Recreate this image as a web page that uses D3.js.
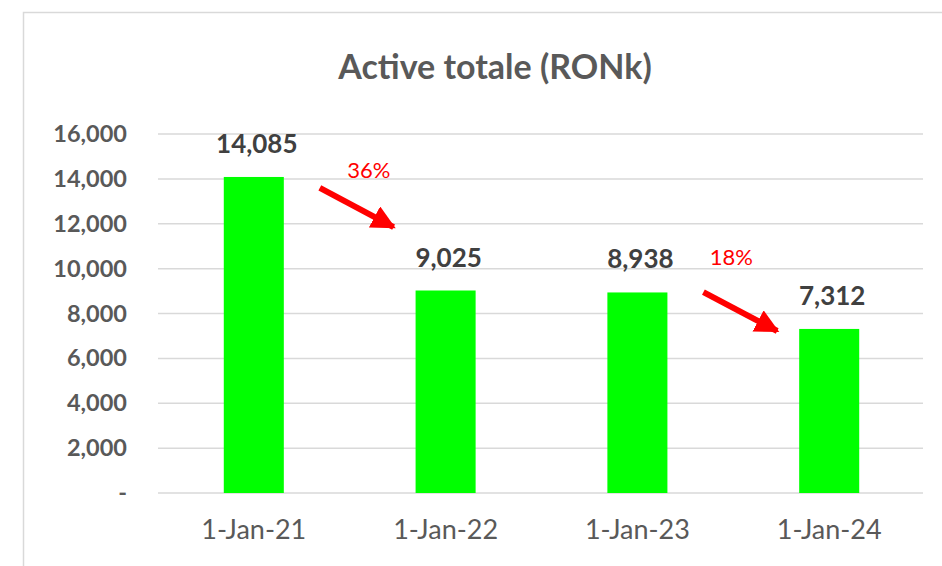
<!DOCTYPE html>
<html>
<head>
<meta charset="utf-8">
<script src="https://cdn.jsdelivr.net/npm/d3@7"></script>
<style>
  body { margin: 0; background: #fff; }
  svg { display: block; font-family: Lato, "Open Sans", sans-serif; }
</style>
</head>
<body>
<div id="container"></div>
<script>
// chart data
const categories = ["1-Jan-21", "1-Jan-22", "1-Jan-23", "1-Jan-24"];
const values = [14085, 9025, 8938, 7312];
const yTicks = [0, 2000, 4000, 6000, 8000, 10000, 12000, 14000, 16000];
// drop annotations: from bar index -> next bar, arrow start/end heights (data units)
const dropFrom = [0, 2];
const dropStartY = [13600, 8950];
const dropEndY = [11850, 7220];
// where the % label sits: fraction of the way between the two bar centres, and height
const pctFrac = [0.6, 0.49];
const pctY = [14390, 10500];

const w = 942;
const h = 566;
const margin = { top: 134, right: 17, bottom: 73, left: 158 };

const svg = d3.select("#container").
append("svg").
attr("width", w).
attr("height", h);

// outer chart border (runs off the right and bottom)
svg.append("rect").
attr("x", 23.5).
attr("y", 12.5).
attr("width", 1000).
attr("height", 1000).
attr("fill", "none").
attr("stroke", "#d9d9d9").
attr("stroke-width", 1.5);

const xScale = d3.scaleBand().
domain(categories).
range([margin.left, w - margin.right]).
paddingInner(0.687).
paddingOuter(0.343);

const yScale = d3.scaleLinear().
domain([0, 16000]).
range([h - margin.bottom, margin.top]);

const cx = c => xScale(c) + xScale.bandwidth() / 2;

// gridlines
svg.append("g").
selectAll("line").
data(yTicks).
enter().
append("line").
attr("x1", margin.left).
attr("x2", w - margin.right - 2).
attr("y1", d => yScale(d)).
attr("y2", d => yScale(d)).
attr("stroke", "#d9d9d9").
attr("stroke-width", 1.5);

// y axis labels
const yAxis = d3.axisLeft(yScale).
tickValues(yTicks).
tickSize(0).
tickPadding(0).
tickFormat(d => d === 0 ? "-" : d3.format(",")(d));

svg.append("g").
attr("id", "y-axis").
attr("transform", "translate(127,0)").
call(yAxis).
call(g => g.select(".domain").remove()).
call(g => g.selectAll("text").
attr("fill", "#595959").
style("font-size", "23.5px").
style("font-weight", "bold").
style("font-family", "Lato, sans-serif"));

// x axis labels
const xAxis = d3.axisBottom(xScale).tickSize(0).tickPadding(0);
svg.append("g").
attr("id", "x-axis").
attr("transform", `translate(0, ${h - margin.bottom + 27})`).
call(xAxis).
call(g => g.select(".domain").remove()).
call(g => g.selectAll("text").
attr("fill", "#595959").
style("font-size", "27px").
style("font-family", "Lato, sans-serif"));

// bars
svg.selectAll(".bar").
data(values).
enter().
append("rect").
attr("class", "bar").
attr("x", (d, i) => xScale(categories[i])).
attr("y", d => yScale(d)).
attr("width", xScale.bandwidth()).
attr("height", d => yScale(0) - yScale(d)).
attr("fill", "#00ff00");

// data labels
svg.selectAll(".value-label").
data(values).
enter().
append("text").
attr("class", "value-label").
attr("x", (d, i) => cx(categories[i]) + 3).
attr("y", d => yScale(d) - 24).
attr("text-anchor", "middle").
attr("fill", "#404040").
style("font-size", "26px").
style("font-weight", "bold").
text(d => d3.format(",")(d));

// arrow head marker
svg.append("defs").
append("marker").
attr("id", "head").
attr("viewBox", "0 0 10 10").
attr("refX", 9).
attr("refY", 5).
attr("markerWidth", 4).
attr("markerHeight", 4).
attr("orient", "auto").
attr("markerUnits", "strokeWidth").
append("path").
attr("d", "M0,0 L10,5 L0,10 Z").
attr("fill", "#ff0000");

const drops = dropFrom.map((i, k) => ({
  x1: xScale(categories[i]) + xScale.bandwidth() + 36,
  x2: xScale(categories[i + 1]) - 22,
  y1: yScale(dropStartY[k]),
  y2: yScale(dropEndY[k]),
  lx: cx(categories[i]) + pctFrac[k] * (cx(categories[i + 1]) - cx(categories[i])),
  ly: yScale(pctY[k]),
  pct: Math.round((values[i] - values[i + 1]) / values[i] * 100) + "%"
}));

svg.selectAll(".drop-arrow").
data(drops).
enter().
append("line").
attr("class", "drop-arrow").
attr("x1", d => d.x1).
attr("y1", d => d.y1).
attr("x2", d => d.x2).
attr("y2", d => d.y2).
attr("stroke", "#ff0000").
attr("stroke-width", 6).
attr("marker-end", "url(#head)");

svg.selectAll(".drop-pct").
data(drops).
enter().
append("text").
attr("class", "drop-pct").
attr("x", d => d.lx).
attr("y", d => d.ly).
attr("dy", "0.35em").
attr("text-anchor", "middle").
attr("fill", "#ff0000").
style("font-size", "22px").
text(d => d.pct);

// title
svg.append("text").
attr("x", 495).
attr("y", 79).
attr("text-anchor", "middle").
attr("fill", "#595959").
style("font-size", "34px").
style("font-weight", "bold").
text("Active totale (RONk)");
</script>
</body>
</html>
